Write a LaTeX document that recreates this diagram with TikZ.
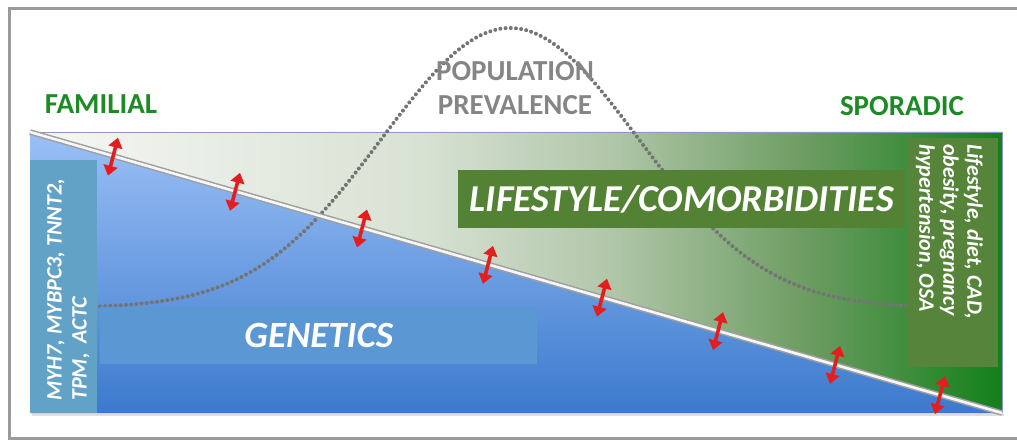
\documentclass[tikz,border=0pt]{standalone}
\usepackage{fontspec}
\setmainfont{Carlito}
\usetikzlibrary{arrows.meta}
\definecolor{framegray}{HTML}{9A9A9A}
\definecolor{famgreen}{HTML}{1E8A26}
\definecolor{popgray}{HTML}{858585}
\definecolor{dotgray}{HTML}{747474}
\definecolor{genblue}{HTML}{5A97D3}
\definecolor{geneblue}{HTML}{62A2C7}
\definecolor{lifegreen}{HTML}{548235}
\definecolor{riskgreen}{HTML}{56843A}
\definecolor{skyblue}{HTML}{9BC0F6}
\definecolor{deepblue}{HTML}{3C7ACD}
\definecolor{paleleft}{HTML}{F6F7F4}
\definecolor{paletwo}{HTML}{D8E2D4}
\definecolor{midgreen}{HTML}{B0C6A8}
\definecolor{sagegreen}{HTML}{6C9C61}
\definecolor{darkright}{HTML}{13801A}
\definecolor{arrowred}{HTML}{E41E1E}
\pgfdeclarehorizontalshading{lifeshade}{100bp}{color(0bp)=(paleleft);
  color(25bp)=(paleleft); color(45bp)=(paletwo); color(55bp)=(midgreen);
  color(65bp)=(sagegreen); color(75bp)=(darkright); color(100bp)=(darkright)}
\tikzset{
  headtext/.style={font=\bfseries\fontsize{29}{34}\selectfont, inner sep=0pt},
  boxtext/.style={text=white, font=\bfseries\itshape, inner sep=0pt},
  updown/.style={arrowred, line width=3.6pt,
    {Triangle[width=14pt,length=10pt]}-{Triangle[width=14pt,length=10pt]}},
  popdots/.style={dotgray, line width=4pt, line cap=round,
    dash pattern=on 0pt off 5.2pt},
  divider/.style={draw=gray!75, double=white!94!gray,
    double distance=2.6pt, line width=1.5pt},
}
\begin{document}
\begin{tikzpicture}[x=1pt,y=-1pt]
    \useasboundingbox (0,0) rectangle (1017,443);

    % Frame
    \draw[framegray, line width=3pt] (1020,9) -- (9,9) -- (9,438) -- (1020,438);

    % Panel corners
    \coordinate (nw) at (30,132);
    \coordinate (ne) at (1002,132);
    \coordinate (se) at (1002,413);
    \coordinate (sw) at (30,413);

    % Panel shadow and halves
    \fill[gray!25] (32,413) rectangle (1004,416);
    \shade[shading=lifeshade] (nw) -- (ne) -- (se) -- cycle;
    \shade[top color=skyblue, bottom color=deepblue] (nw) -- (se) -- (sw) -- cycle;
    \draw[gray!60!blue!60, thin] (nw) -- (ne) -- (se);

    % Population curve
    \draw[popdots] plot[domain=100:998, samples=140]
        (\x, {308-280*exp(-0.5*pow((\x-510)/128,2))});

    % Diagonal
    \draw[divider] (nw) -- (se);

    % Arrows across the diagonal
    \foreach \c [count=\i] in {113,235,362,488,602,718,835,940} {
      \coordinate (t\i) at ({\c+5},{133+(\c-31)*0.2884-19});
      \coordinate (b\i) at ({\c-5},{133+(\c-31)*0.2884+19});
      \draw[updown] (b\i) -- (t\i);
    }

    % Boxes
    \node[fill=geneblue, minimum width=67, minimum height=253, inner sep=0pt,
        anchor=north west] (genebox) at (30,160) {};
    \node[fill=genblue, minimum width=437, minimum height=57, inner sep=0pt,
        anchor=north west, boxtext, font=\bfseries\itshape\fontsize{37}{40}\selectfont]
        (genetics) at (100,307) {GENETICS};
    \node[fill=lifegreen, minimum width=447, minimum height=58, inner sep=0pt,
        anchor=north west, boxtext, font=\bfseries\itshape\fontsize{38}{40}\selectfont]
        (lifestyle) at (458,170) {LIFESTYLE/COMORBIDITIES};
    \node[fill=riskgreen, minimum width=91, minimum height=229, inner sep=0pt,
        anchor=north west] (riskbox) at (907,138) {};

    % Box texts
    \node[boxtext, rotate=90, anchor=north west, align=left,
        font=\bfseries\itshape\fontsize{22}{25}\selectfont] (genes) at (47,401)
        {MYH7, MYBPC3, TNNT2,\\TPM,~~ACTC};
    \node[boxtext, rotate=-90, anchor=north west, align=left,
        font=\bfseries\itshape\fontsize{22}{24}\selectfont] (risks) at (983,144)
        {Lifestyle, diet, CAD,\\obesity, pregnancy\\hypertension, OSA};

    % Headings
    \node[headtext, text=famgreen] (familial) at (101,104) {FAMILIAL};
    \node[headtext, text=famgreen] (sporadic) at (902,106) {SPORADIC};
    \node[headtext, text=popgray, align=center] (prevalence) at (515,88)
        {POPULATION\\PREVALENCE};
\end{tikzpicture}
\end{document}
